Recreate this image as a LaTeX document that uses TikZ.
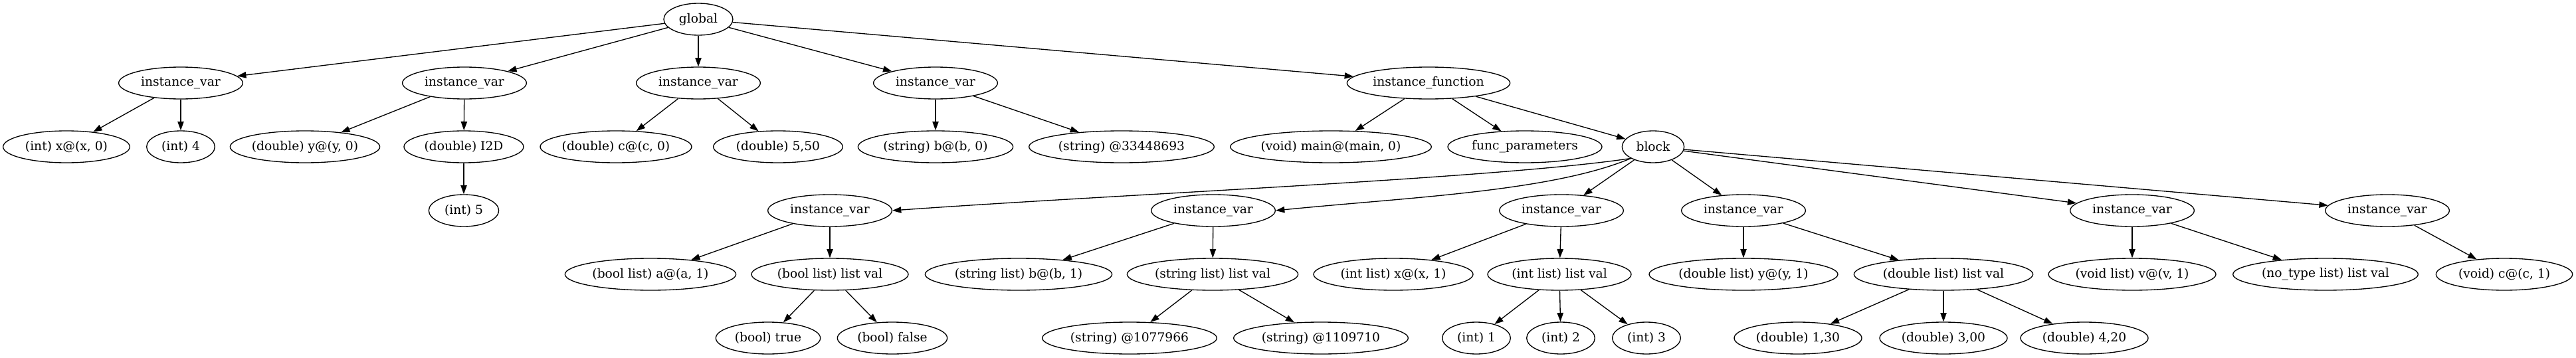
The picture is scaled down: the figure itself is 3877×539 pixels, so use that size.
\documentclass[tikz,border=0pt]{standalone}
\usepackage{fontspec}
\setmainfont{DejaVu Serif}
\usetikzlibrary{arrows.meta,shapes.geometric}

% label kept out of the shape size, the ellipse size is set by hand
\newcommand{\lb}[1]{\makebox[0pt]{#1}}
\tikzset{
  tn/.style={ellipse,draw,line width=1pt,inner sep=0pt,minimum height=36pt,minimum width=#1},
  tn/.default=140pt,
}

\begin{document}
\begin{tikzpicture}[x=0.75pt,y=-0.75pt,>={Triangle[length=10pt,width=7pt]},font=\fontsize{14pt}{17pt}\selectfont]
\useasboundingbox (0,0) rectangle (3877,539);
% rank 0
\node[tn=78pt] (global) at (1051,29) {\lb{global}};
% rank 1
\node[tn] (ivA) at (272,125) {\lb{instance\_var}};
\node[tn] (ivB) at (699,125) {\lb{instance\_var}};
\node[tn] (ivC) at (1051,125) {\lb{instance\_var}};
\node[tn] (ivD) at (1408,125) {\lb{instance\_var}};
\node[tn=184pt] (ifun) at (2150,125) {\lb{instance\_function}};
% rank 2
\node[tn=143pt] (intx) at (100,221) {\lb{(int) x@(x, 0)}};
\node[tn=77pt] (int4) at (272,221) {\lb{(int) 4}};
\node[tn=169pt] (dbly) at (459,221) {\lb{(double) y@(y, 0)}};
\node[tn=135pt] (dbli) at (698,221) {\lb{(double) I2D}};
\node[tn=171pt] (dblc) at (927,221) {\lb{(double) c@(c, 0)}};
\node[tn=146pt] (dbl5) at (1171,221) {\lb{(double) 5,50}};
\node[tn=175pt] (strb) at (1408,221) {\lb{(string) b@(b, 0)}};
\node[tn=209pt] (strv) at (1688,221) {\lb{(string) @33448693}};
\node[tn=227pt] (vmain) at (2003,221) {\lb{(void) main@(main, 0)}};
\node[tn=174pt] (fpar) at (2295,221) {\lb{func\_parameters}};
\node[tn=70pt] (block) at (2488,221) {\lb{block}};
% rank 3
\node[tn=79pt] (int5) at (698,317) {\lb{(int) 5}};
\node[tn] (ivE) at (1249,317) {\lb{instance\_var}};
\node[tn] (ivF) at (1826,317) {\lb{instance\_var}};
\node[tn] (ivG) at (2350,317) {\lb{instance\_var}};
\node[tn] (ivH) at (2624,317) {\lb{instance\_var}};
\node[tn] (ivI) at (3209,317) {\lb{instance\_var}};
\node[tn] (ivJ) at (3593,317) {\lb{instance\_var}};
% rank 4
\node[tn=193pt] (bla) at (979,413) {\lb{(bool list) a@(a, 1)}};
\node[tn=177pt] (blv) at (1249,413) {\lb{(bool list) list val}};
\node[tn=211pt] (slb) at (1533,413) {\lb{(string list) b@(b, 1)}};
\node[tn=193pt] (slv) at (1825,413) {\lb{(string list) list val}};
\node[tn=180pt] (ilx) at (2097,413) {\lb{(int list) x@(x, 1)}};
\node[tn=162pt] (ilv) at (2347,413) {\lb{(int list) list val}};
\node[tn=213pt] (dly) at (2624,413) {\lb{(double list) y@(y, 1)}};
\node[tn=202pt] (dlv) at (2925,413) {\lb{(double list) list val}};
\node[tn=189pt] (vlv) at (3209,413) {\lb{(void list) v@(v, 1)}};
\node[tn=209pt] (ntl) at (3500,413) {\lb{(no\_type list) list val}};
\node[tn=154pt] (vc) at (3769,413) {\lb{(void) c@(c, 1)}};
% rank 5
\node[tn=118pt] (btrue) at (1156,509) {\lb{(bool) true}};
\node[tn=124pt] (bfalse) at (1343,509) {\lb{(bool) false}};
\node[tn=197pt] (sa) at (1700,509) {\lb{(string) @1077966}};
\node[tn=197pt] (sb) at (1988,509) {\lb{(string) @1109710}};
\node[tn=77pt] (i1) at (2222,509) {\lb{(int) 1}};
\node[tn=77pt] (i2) at (2349,509) {\lb{(int) 2}};
\node[tn=77pt] (i3) at (2478,509) {\lb{(int) 3}};
\node[tn=144pt] (d1) at (2706,509) {\lb{(double) 1,30}};
\node[tn=144pt] (d2) at (2925,509) {\lb{(double) 3,00}};
\node[tn=144pt] (d3) at (3137,509) {\lb{(double) 4,20}};
% edges
\foreach \a/\b in {global/ivA,global/ivB,global/ivC,global/ivD,global/ifun,
  ivA/intx,ivA/int4,ivB/dbly,ivB/dbli,dbli/int5,ivC/dblc,ivC/dbl5,ivD/strb,ivD/strv,
  ifun/vmain,ifun/fpar,ifun/block,
  block/ivG,block/ivH,block/ivI,block/ivJ,
  ivE/bla,ivE/blv,blv/btrue,blv/bfalse,ivF/slb,ivF/slv,slv/sa,slv/sb,
  ivG/ilx,ivG/ilv,ilv/i1,ilv/i2,ilv/i3,ivH/dly,ivH/dlv,dlv/d1,dlv/d2,dlv/d3,
  ivI/vlv,ivI/ntl,ivJ/vc}
  \draw[->,line width=1pt] (\a) -- (\b);
% the two long ones bend out under func_parameters
\draw[->,line width=1pt] (block.south west) .. controls +(-200,30) and +(350,-25) .. (ivE.east);
\draw[->,line width=1pt] (block.south west) .. controls +(-120,50) and +(200,-20) .. (ivF.east);
\end{tikzpicture}
\end{document}
